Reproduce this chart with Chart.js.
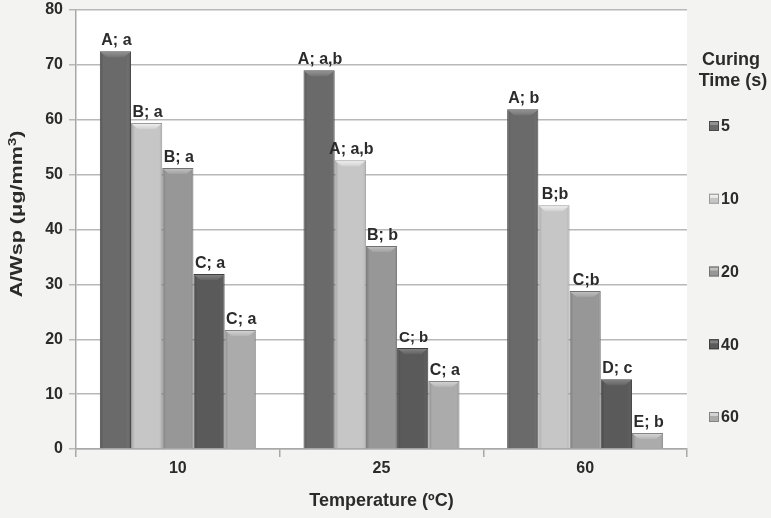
<!DOCTYPE html>
<html>
<head>
<meta charset="utf-8">
<script src="https://cdn.jsdelivr.net/npm/chart.js@4.4.1/dist/chart.umd.min.js"></script>
<style>
  html, body { margin: 0; padding: 0; background: #f3f3f1; }
  #wrap { width: 771px; height: 518px; }
</style>
</head>
<body>
<div id="wrap"><canvas id="c" width="771" height="518"></canvas></div>
<script>
const categories = ['10', '25', '60'];
const seriesNames = ['5', '10', '20', '40', '60'];
const values5  = [72.5, 69.0, 61.9];
const values10 = [59.4, 52.6, 44.4];
const values20 = [51.2, 37.0, 28.8];
const values40 = [31.9, 18.4, 12.7];
const values60 = [21.7, 12.4, 2.9];
const labels5  = ['A; a', 'A; a,b', 'A; b'];
const labels10 = ['B; a', 'A; a,b', 'B;b'];
const labels20 = ['B; a', 'B; b', 'C;b'];
const labels40 = ['C; a', 'C; b', 'D; c'];
const labels60 = ['C; a', 'C; a', 'E; b'];
const yTicks = [0, 10, 20, 30, 40, 50, 60, 70, 80];
const yTitleMain = 'A/Wsp (μg/mm';
const yTitleSup = '3';
const yTitleEnd = ')';
const xTitle = 'Temperature (ºC)';
const legendTitle = ['Curing', 'Time (s)'];

const colors = ['#6a6a6a', '#c6c6c6', '#979797', '#5a5a5a', '#ababab'];
const borders = ['#4a4a4a', '#9a9a9a', '#727272', '#3e3e3e', '#848484'];
const allValues = [values5, values10, values20, values40, values60];
const allLabels = [labels5, labels10, labels20, labels40, labels60];

const FONT = '"Liberation Sans", Arial, sans-serif';
const TEXT = '#2b2b2b';

const bgPlugin = {
  id: 'bg',
  beforeDraw(chart) {
    const {ctx, chartArea: a} = chart;
    ctx.save();
    ctx.fillStyle = '#f3f3f1';
    ctx.fillRect(0, 0, chart.width, chart.height);
    ctx.fillStyle = '#ffffff';
    ctx.fillRect(a.left, a.top, a.right - a.left, a.bottom - a.top);
    ctx.restore();
  }
};

function shade(hex, amt) {
  const n = parseInt(hex.slice(1), 16);
  let r = (n >> 16) & 255, g = (n >> 8) & 255, b = n & 255;
  const f = v => Math.max(0, Math.min(255, Math.round(v + amt)));
  return 'rgb(' + f(r) + ',' + f(g) + ',' + f(b) + ')';
}

const bevelPlugin = {
  id: 'bevel',
  afterDatasetsDraw(chart) {
    const ctx = chart.ctx;
    chart.data.datasets.forEach((ds, di) => {
      const meta = chart.getDatasetMeta(di);
      meta.data.forEach((bar) => {
        const l = bar.x - bar.width / 2, r = bar.x + bar.width / 2;
        const t = bar.y, b = bar.base;
        const h = Math.min(6, b - t);
        ctx.save();
        const g = ctx.createLinearGradient(l, 0, r, 0);
        g.addColorStop(0, 'rgba(0,0,0,0.18)');
        g.addColorStop(0.12, 'rgba(0,0,0,0.0)');
        g.addColorStop(0.85, 'rgba(255,255,255,0.0)');
        g.addColorStop(1, 'rgba(0,0,0,0.15)');
        ctx.fillStyle = g;
        ctx.fillRect(l + 1, t + 1, r - l - 2, b - t - 1);
        ctx.beginPath();
        ctx.moveTo(l + 1, t + 1);
        ctx.lineTo(r - 1, t + 1);
        ctx.lineTo(r - 1 - h, t + h);
        ctx.lineTo(l + 1 + h, t + h);
        ctx.closePath();
        const tg = ctx.createLinearGradient(0, t, 0, t + h);
        tg.addColorStop(0, shade(colors[di], 45));
        tg.addColorStop(1, shade(colors[di], 10));
        ctx.fillStyle = tg;
        ctx.fill();
        ctx.restore();
      });
    });
  }
};

const labelPlugin = {
  id: 'barLabels',
  afterDatasetsDraw(chart) {
    const ctx = chart.ctx;
    ctx.save();
    ctx.fillStyle = TEXT;
    ctx.textAlign = 'center';
    ctx.textBaseline = 'alphabetic';
    chart.data.datasets.forEach((ds, di) => {
      const meta = chart.getDatasetMeta(di);
      meta.data.forEach((bar, i) => {
        const txt = allLabels[di][i];
        const small = (di === 3 && i === 1);
        ctx.font = 'bold ' + (small ? 15 : 16) + 'px ' + FONT;
        ctx.fillText(txt, bar.x + 1, bar.y - 6);
      });
    });
    ctx.restore();
  }
};

const yTitlePlugin = {
  id: 'yTitle',
  afterDraw(chart) {
    const ctx = chart.ctx;
    ctx.save();
    ctx.translate(18, 214);
    ctx.rotate(-Math.PI / 2);
    ctx.scale(1.35, 1);
    ctx.fillStyle = TEXT;
    ctx.textBaseline = 'middle';
    ctx.font = 'bold 16px ' + FONT;
    const w1 = ctx.measureText(yTitleMain).width;
    ctx.font = 'bold 11px ' + FONT;
    const w2 = ctx.measureText(yTitleSup).width;
    ctx.font = 'bold 16px ' + FONT;
    const w3 = ctx.measureText(yTitleEnd).width;
    let x = -(w1 + w2 + w3) / 2;
    ctx.textAlign = 'left';
    ctx.fillText(yTitleMain, x, 0);
    x += w1;
    ctx.font = 'bold 11px ' + FONT;
    ctx.fillText(yTitleSup, x, -5);
    x += w2;
    ctx.font = 'bold 16px ' + FONT;
    ctx.fillText(yTitleEnd, x, 0);
    ctx.restore();
  }
};

const legendPlugin = {
  id: 'customLegend',
  afterDraw(chart) {
    const ctx = chart.ctx;
    ctx.save();
    ctx.fillStyle = TEXT;
    ctx.font = 'bold 18px ' + FONT;
    ctx.textAlign = 'center';
    ctx.textBaseline = 'middle';
    ctx.fillText(legendTitle[0], 731, 60);
    ctx.fillText(legendTitle[1], 733, 81);
    ctx.textAlign = 'left';
    ctx.font = 'bold 16px ' + FONT;
    seriesNames.forEach((name, i) => {
      const cy = 126 + i * 72.75;
      ctx.fillStyle = colors[i];
      ctx.fillRect(709, cy - 5, 10, 10);
      ctx.fillStyle = shade(colors[i], 40);
      ctx.fillRect(710, cy - 4, 8, 3);
      ctx.strokeStyle = borders[i];
      ctx.lineWidth = 1;
      ctx.strokeRect(709.5, cy - 4.5, 9, 9);
      ctx.fillStyle = TEXT;
      ctx.fillText(name, 721, cy + 1);
    });
    ctx.restore();
  }
};

const datasets = seriesNames.map((name, i) => ({
  label: name,
  data: allValues[i],
  backgroundColor: colors[i],
  borderColor: borders[i],
  borderWidth: 1,
  barPercentage: 1.0,
  categoryPercentage: 0.766
}));

new Chart(document.getElementById('c'), {
  type: 'bar',
  data: { labels: categories, datasets },
  plugins: [bgPlugin, bevelPlugin, labelPlugin, yTitlePlugin, legendPlugin],
  options: {
    responsive: false,
    animation: false,
    layout: { padding: { top: 10, right: 84, bottom: 0, left: 0 } },
    plugins: { legend: { display: false }, tooltip: { enabled: false } },
    scales: {
      x: {
        grid: { display: true, drawOnChartArea: false, color: '#a8a8a8', lineWidth: 1.5, tickLength: 8, offset: true },
        border: { display: true, color: '#a8a8a8', width: 1.5 },
        ticks: { color: TEXT, font: { family: FONT, size: 16, weight: 'bold' }, padding: 2 },
        title: { display: true, text: xTitle, color: TEXT, font: { family: FONT, size: 18, weight: 'bold' }, padding: { top: 0, bottom: 6 } },
        afterFit(scale) { scale.height = 69; scale.paddingLeft = 0; scale.paddingRight = 0; }
      },
      y: {
        min: 0, max: 80,
        afterBuildTicks(scale) { scale.ticks = yTicks.map(v => ({ value: v })); },
        grid: { color: '#b8b8b8', lineWidth: 1.5, tickLength: 7 },
        border: { display: true, color: '#a8a8a8', width: 1.5 },
        ticks: { color: TEXT, font: { family: FONT, size: 16, weight: 'bold' }, padding: 6 },
        title: { display: false },
        afterFit(scale) { scale.width = 76; scale.paddingTop = 0; scale.paddingBottom = 0; }
      }
    }
  }
});
</script>
</body>
</html>
